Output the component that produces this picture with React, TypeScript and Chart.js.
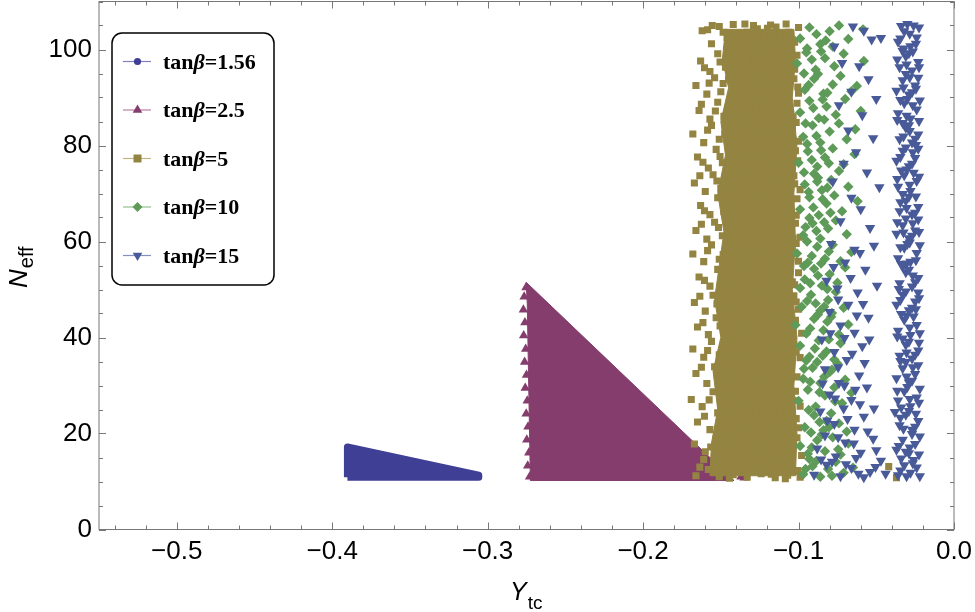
import React, { useEffect, useRef } from "react";
import { Chart, registerables } from "chart.js";

Chart.register(...registerables);

// axis ticks
const xTicks = [-0.5, -0.4, -0.3, -0.2, -0.1, 0];
const yTicks = [0, 20, 40, 60, 80, 100];

const seriesLabels = ["1.56", "2.5", "5", "10", "15"];

// tanβ=1.56 : densely filled wedge, outline of marker centres
const blueRegion = [
  [-0.3902, 10.9], [-0.3902, 17.2], [-0.3057, 11.3], [-0.3057, 10.9], [-0.3902, 10.9],
];

// tanβ=2.5 : densely filled triangle + ragged left edge
const purpleRegion = [
  [-0.2752, 51.5], [-0.1415, 10.2], [-0.2725, 10.2], [-0.2745, 47.0], [-0.2752, 51.5],
];
const purpleEdge = [
  [-0.2753, 50.4], [-0.2765, 48.5], [-0.277, 45.8], [-0.276, 43.1], [-0.2768, 40.4], [-0.2755, 37.6],
  [-0.2762, 34.9], [-0.275, 32.2], [-0.2758, 29.5], [-0.2745, 26.8], [-0.2752, 24.1],
  [-0.274, 21.4], [-0.2748, 18.7], [-0.2735, 16.0], [-0.2742, 13.3], [-0.273, 11.0],
  [-0.137, 11.0], [-0.135, 10.8],
];

// tanβ=5 : dense core of the cloud
const goldCore = [
  [-0.147, 104.2], [-0.149, 98], [-0.145, 92], [-0.15, 85], [-0.147, 78], [-0.152, 70], [-0.148, 62],
  [-0.151, 55], [-0.154, 48], [-0.15, 40], [-0.155, 33], [-0.152, 25], [-0.156, 18], [-0.157, 11.2],
  [-0.102, 11.2], [-0.101, 20], [-0.103, 30], [-0.101, 40], [-0.104, 50], [-0.102, 60], [-0.103, 70],
  [-0.101, 80], [-0.104, 90], [-0.102, 98], [-0.103, 104.2], [-0.147, 104.2],
];

// tanβ=5 : individual points
const goldPoints = [
  [-0.166, 11.2], [-0.158, 12.5], [-0.151, 11.0], [-0.147, 13.8], [-0.142, 11.4], [-0.137, 12.9], [-0.133, 10.9], [-0.128, 14.2], [-0.124, 11.6], [-0.119, 12.4], [-0.115, 10.8], [-0.111, 13.5], [-0.107, 11.3], [-0.103, 12.1], [-0.099, 10.9], [-0.161, 14.6], [-0.154, 13.1], [-0.121, 14.8],
  [-0.167, 17.8], [-0.16, 16.2], [-0.153, 18.9], [-0.149, 15.7], [-0.144, 17.3], [-0.139, 19.4], [-0.135, 16.1], [-0.13, 18.2], [-0.126, 15.5], [-0.122, 19.6], [-0.117, 17.0], [-0.113, 15.9], [-0.109, 18.7], [-0.105, 16.4], [-0.101, 19.1], [-0.098, 15.4], [-0.146, 19.9],
  [-0.165, 22.4], [-0.157, 20.8], [-0.152, 24.3], [-0.148, 21.5], [-0.143, 23.6], [-0.138, 20.6], [-0.134, 24.8], [-0.129, 22.0], [-0.125, 20.3], [-0.12, 23.4], [-0.116, 21.7], [-0.112, 24.6], [-0.108, 20.9], [-0.104, 22.9], [-0.1, 21.2], [-0.131, 24.0],
  [-0.169, 27.1], [-0.162, 25.6], [-0.155, 28.7], [-0.15, 26.2], [-0.145, 29.5], [-0.141, 25.3], [-0.136, 27.8], [-0.132, 29.9], [-0.127, 26.5], [-0.123, 28.4], [-0.118, 25.4], [-0.114, 27.6], [-0.11, 29.2], [-0.106, 26.0], [-0.102, 28.8], [-0.099, 25.7], [-0.14, 28.6],
  [-0.166, 32.5], [-0.159, 30.4], [-0.154, 33.9], [-0.147, 31.2], [-0.143, 34.6], [-0.139, 30.7], [-0.135, 32.9], [-0.13, 34.1], [-0.126, 30.2], [-0.121, 33.0], [-0.117, 31.6], [-0.113, 34.8], [-0.109, 30.9], [-0.105, 33.4], [-0.101, 31.8], [-0.128, 32.1],
  [-0.168, 37.6], [-0.161, 35.9], [-0.156, 39.2], [-0.151, 36.4], [-0.146, 38.8], [-0.142, 35.2], [-0.137, 37.4], [-0.133, 39.6], [-0.128, 36.1], [-0.124, 38.3], [-0.119, 35.5], [-0.115, 37.9], [-0.111, 39.8], [-0.107, 36.7], [-0.103, 38.5], [-0.099, 35.8], [-0.121, 39.1],
  [-0.165, 42.2], [-0.158, 40.6], [-0.153, 44.1], [-0.148, 41.3], [-0.144, 43.7], [-0.14, 40.2], [-0.136, 42.5], [-0.131, 44.6], [-0.127, 41.0], [-0.122, 43.2], [-0.118, 40.5], [-0.114, 42.9], [-0.11, 44.4], [-0.106, 41.4], [-0.102, 43.6], [-0.098, 40.9], [-0.134, 40.8],
  [-0.167, 47.3], [-0.16, 45.5], [-0.155, 48.8], [-0.15, 46.0], [-0.145, 49.4], [-0.141, 45.2], [-0.137, 47.7], [-0.132, 49.9], [-0.128, 46.3], [-0.124, 48.4], [-0.119, 45.6], [-0.115, 47.9], [-0.111, 49.2], [-0.107, 46.6], [-0.103, 48.7], [-0.1, 45.9], [-0.126, 47.0],
  [-0.164, 52.6], [-0.157, 50.7], [-0.152, 54.2], [-0.147, 51.4], [-0.143, 53.8], [-0.138, 50.3], [-0.134, 52.9], [-0.129, 54.5], [-0.125, 51.1], [-0.12, 53.3], [-0.116, 50.5], [-0.112, 52.8], [-0.108, 54.7], [-0.104, 51.6], [-0.1, 53.5], [-0.131, 51.9],
  [-0.168, 57.4], [-0.161, 55.8], [-0.156, 59.3], [-0.151, 56.3], [-0.146, 58.6], [-0.142, 55.4], [-0.138, 57.9], [-0.133, 59.7], [-0.129, 56.0], [-0.124, 58.2], [-0.12, 55.6], [-0.116, 57.5], [-0.112, 59.5], [-0.108, 56.7], [-0.104, 58.9], [-0.1, 55.9], [-0.122, 59.9],
  [-0.166, 62.3], [-0.159, 60.5], [-0.154, 64.0], [-0.149, 61.2], [-0.145, 63.6], [-0.14, 60.3], [-0.136, 62.8], [-0.131, 64.5], [-0.127, 61.0], [-0.123, 63.1], [-0.118, 60.7], [-0.114, 62.5], [-0.11, 64.3], [-0.106, 61.6], [-0.102, 63.8], [-0.099, 60.9], [-0.143, 61.8],
  [-0.163, 67.5], [-0.157, 65.6], [-0.152, 69.1], [-0.148, 66.2], [-0.143, 68.5], [-0.139, 65.3], [-0.135, 67.8], [-0.13, 69.6], [-0.126, 66.0], [-0.121, 68.2], [-0.117, 65.7], [-0.113, 67.4], [-0.109, 69.4], [-0.105, 66.5], [-0.101, 68.9], [-0.128, 67.3],
  [-0.167, 72.2], [-0.16, 70.4], [-0.155, 73.9], [-0.15, 71.1], [-0.146, 74.5], [-0.141, 70.2], [-0.137, 72.7], [-0.132, 74.8], [-0.128, 71.3], [-0.123, 73.4], [-0.119, 70.6], [-0.115, 72.9], [-0.111, 74.4], [-0.107, 71.5], [-0.103, 73.7], [-0.099, 70.8], [-0.134, 71.0],
  [-0.165, 77.6], [-0.158, 75.3], [-0.153, 79.2], [-0.149, 76.4], [-0.144, 78.7], [-0.14, 75.5], [-0.136, 77.9], [-0.131, 79.6], [-0.127, 76.2], [-0.122, 78.4], [-0.118, 75.8], [-0.114, 77.5], [-0.11, 79.4], [-0.106, 76.6], [-0.102, 78.9], [-0.125, 79.8],
  [-0.168, 82.4], [-0.161, 80.6], [-0.156, 84.2], [-0.151, 81.3], [-0.147, 83.7], [-0.142, 80.4], [-0.138, 82.8], [-0.133, 84.6], [-0.129, 81.2], [-0.124, 83.3], [-0.12, 80.8], [-0.116, 82.6], [-0.112, 84.5], [-0.108, 81.7], [-0.104, 83.9], [-0.1, 80.9], [-0.135, 81.0],
  [-0.164, 87.3], [-0.157, 85.5], [-0.152, 89.0], [-0.148, 86.1], [-0.143, 88.6], [-0.139, 85.4], [-0.135, 87.7], [-0.13, 89.5], [-0.126, 86.3], [-0.121, 88.1], [-0.117, 85.6], [-0.113, 87.4], [-0.109, 89.3], [-0.105, 86.6], [-0.101, 88.8], [-0.123, 85.9],
  [-0.166, 92.5], [-0.159, 90.7], [-0.154, 94.1], [-0.15, 91.2], [-0.145, 93.8], [-0.141, 90.4], [-0.137, 92.8], [-0.132, 94.6], [-0.128, 91.1], [-0.124, 93.3], [-0.119, 90.6], [-0.115, 92.5], [-0.111, 94.4], [-0.107, 91.6], [-0.103, 93.9], [-0.1, 90.9], [-0.134, 93.0],
  [-0.163, 97.6], [-0.157, 95.4], [-0.152, 99.1], [-0.147, 96.3], [-0.143, 98.7], [-0.139, 95.5], [-0.134, 97.8], [-0.13, 99.6], [-0.126, 96.2], [-0.121, 98.3], [-0.117, 95.7], [-0.113, 97.5], [-0.109, 99.4], [-0.105, 96.6], [-0.101, 98.8], [-0.128, 98.0],
  [-0.162, 103.9], [-0.156, 101.2], [-0.151, 104.8], [-0.146, 102.5], [-0.142, 105.2], [-0.138, 100.6], [-0.133, 103.6], [-0.129, 105.0], [-0.125, 101.8], [-0.12, 104.4], [-0.116, 100.9], [-0.112, 103.1], [-0.108, 105.3], [-0.104, 102.0], [-0.1, 104.6], [-0.135, 101.4], [-0.118, 105.1],
  [-0.042, 13.1], [-0.037, 10.8],
  [-0.1635, 13.0], [-0.1495, 12.2], [-0.1395, 14.1], [-0.1345, 11.9], [-0.1265, 12.7], [-0.1175, 11.5], [-0.1125, 14.6], [-0.1045, 13.9], [-0.1005, 12.3], [-0.1445, 10.7], [-0.1085, 10.6],
  [-0.1565, 17.2], [-0.1505, 19.0], [-0.1415, 16.0], [-0.1325, 17.6], [-0.1235, 16.9], [-0.1195, 18.3], [-0.1105, 17.0], [-0.1035, 18.1], [-0.1155, 19.8], [-0.1375, 18.9], [-0.1275, 19.5],
  [-0.1605, 23.6], [-0.1455, 22.8], [-0.1405, 21.9], [-0.1315, 23.3], [-0.1225, 21.6], [-0.1185, 24.2], [-0.1135, 22.9], [-0.1065, 24.0], [-0.1015, 23.1], [-0.1275, 24.6], [-0.1355, 20.7],
  [-0.1575, 27.0], [-0.1475, 27.9], [-0.1385, 26.6], [-0.1305, 25.8], [-0.1255, 28.9], [-0.1205, 27.1], [-0.1125, 26.0], [-0.1075, 28.1], [-0.1035, 26.9], [-0.1165, 29.6], [-0.1345, 29.1],
  [-0.1625, 33.8], [-0.1505, 32.7], [-0.1455, 30.6], [-0.1375, 32.2], [-0.1325, 31.4], [-0.1235, 34.4], [-0.1185, 32.6], [-0.1105, 33.9], [-0.1065, 31.7], [-0.1415, 34.9], [-0.1155, 30.3],
  [-0.1585, 37.3], [-0.1485, 38.1], [-0.1395, 36.9], [-0.1305, 38.8], [-0.1265, 35.9], [-0.1215, 37.2], [-0.1135, 36.2], [-0.1085, 38.7], [-0.1015, 37.0], [-0.1175, 39.6], [-0.1345, 35.6],
  [-0.1615, 43.1], [-0.1505, 42.4], [-0.1425, 41.8], [-0.1345, 43.4], [-0.1245, 42.0], [-0.1195, 44.7], [-0.1155, 41.7], [-0.1085, 42.8], [-0.1045, 40.4], [-0.1285, 44.9], [-0.1395, 44.5],
  [-0.1635, 48.6], [-0.1525, 47.0], [-0.1435, 47.9], [-0.1355, 46.5], [-0.1305, 48.2], [-0.1215, 47.0], [-0.1165, 49.6], [-0.1095, 47.8], [-0.1015, 47.4], [-0.1255, 45.4], [-0.1395, 49.8],
  [-0.1605, 51.9], [-0.1495, 53.0], [-0.1415, 52.1], [-0.1365, 54.9], [-0.1275, 53.7], [-0.1225, 51.6], [-0.1145, 52.3], [-0.1065, 53.4], [-0.1025, 51.0], [-0.1185, 54.8], [-0.1315, 50.2],
  [-0.1585, 58.1], [-0.1485, 57.3], [-0.1405, 56.8], [-0.1355, 58.7], [-0.1265, 57.4], [-0.1185, 56.6], [-0.1135, 58.9], [-0.1055, 57.6], [-0.1015, 59.6], [-0.1225, 55.2], [-0.1435, 59.9],
  [-0.1625, 63.6], [-0.1515, 62.9], [-0.1425, 61.9], [-0.1335, 63.9], [-0.1295, 62.2], [-0.1205, 61.6], [-0.1155, 64.1], [-0.1085, 62.8], [-0.1035, 60.6], [-0.1255, 64.8], [-0.1375, 60.4],
  [-0.1605, 66.4], [-0.1455, 67.2], [-0.1375, 66.6], [-0.1325, 68.9], [-0.1235, 67.0], [-0.1195, 69.5], [-0.1145, 66.2], [-0.1065, 67.9], [-0.1015, 65.5], [-0.1285, 65.1], [-0.1415, 69.8],
  [-0.1635, 73.7], [-0.1525, 72.6], [-0.1435, 73.0], [-0.1355, 71.6], [-0.1255, 72.4], [-0.1215, 74.6], [-0.1135, 71.1], [-0.1085, 73.2], [-0.1025, 72.0], [-0.1305, 73.9], [-0.1175, 70.3],
  [-0.1615, 76.5], [-0.1505, 77.7], [-0.1425, 77.0], [-0.1345, 75.9], [-0.1285, 77.2], [-0.1205, 76.9], [-0.1165, 79.3], [-0.1075, 78.0], [-0.1005, 76.8], [-0.1385, 79.5], [-0.1235, 75.2],
  [-0.1585, 83.2], [-0.1475, 82.4], [-0.1405, 81.7], [-0.1355, 83.9], [-0.1265, 82.1], [-0.1185, 84.3], [-0.1135, 81.0], [-0.1055, 82.7], [-0.1015, 84.8], [-0.1305, 84.9], [-0.1225, 80.3],
  [-0.1625, 88.6], [-0.1535, 87.2], [-0.1455, 87.6], [-0.1365, 86.3], [-0.1275, 87.9], [-0.1235, 86.4], [-0.1155, 89.6], [-0.1085, 87.6], [-0.1035, 86.0], [-0.1405, 89.4], [-0.1195, 85.2],
  [-0.1575, 93.0], [-0.1485, 92.9], [-0.1395, 91.8], [-0.1345, 94.8], [-0.1255, 92.3], [-0.1215, 94.5], [-0.1125, 91.0], [-0.1065, 93.0], [-0.1005, 92.2], [-0.1435, 90.3], [-0.1175, 93.7],
  [-0.1605, 96.2], [-0.1505, 97.4], [-0.1415, 96.9], [-0.1365, 99.2], [-0.1285, 97.0], [-0.1235, 96.9], [-0.1155, 98.6], [-0.1075, 97.9], [-0.1025, 95.9], [-0.1195, 99.8], [-0.1325, 95.3],
  [-0.1585, 104.1], [-0.1485, 103.6], [-0.1395, 102.4], [-0.1315, 101.1], [-0.1265, 104.3], [-0.1225, 102.9], [-0.1145, 104.7], [-0.1065, 103.6], [-0.1025, 101.5], [-0.1345, 105.3], [-0.1445, 100.5], [-0.1555, 105.0],
];

// tanβ=10
const greenPoints = [
  [-0.097, 11.5], [-0.091, 13.2], [-0.086, 11.0], [-0.081, 12.6], [-0.076, 14.1], [-0.071, 11.8], [-0.093, 14.7], [-0.065, 12.9],
  [-0.099, 17.4], [-0.094, 15.8], [-0.088, 18.6], [-0.083, 16.3], [-0.078, 19.2], [-0.073, 15.6], [-0.068, 17.9], [-0.085, 19.8],
  [-0.096, 21.3], [-0.09, 23.8], [-0.084, 20.7], [-0.079, 24.2], [-0.074, 22.1], [-0.069, 20.4], [-0.092, 20.2], [-0.082, 22.6],
  [-0.1, 26.8], [-0.094, 29.1], [-0.089, 25.6], [-0.083, 27.9], [-0.077, 29.6], [-0.072, 26.3], [-0.066, 28.5],
  [-0.097, 31.4], [-0.091, 33.7], [-0.086, 30.5], [-0.08, 32.8], [-0.075, 34.6], [-0.07, 31.2], [-0.088, 34.9],
  [-0.099, 38.3], [-0.093, 36.0], [-0.087, 39.4], [-0.082, 37.1], [-0.077, 35.4], [-0.073, 38.8], [-0.095, 35.2],
  [-0.102, 42.6], [-0.095, 40.8], [-0.09, 43.9], [-0.084, 41.5], [-0.079, 44.3], [-0.074, 40.6], [-0.068, 42.7],
  [-0.098, 46.4], [-0.092, 48.9], [-0.086, 45.6], [-0.081, 47.8], [-0.076, 49.5], [-0.071, 46.2], [-0.089, 47.1],
  [-0.096, 52.1], [-0.09, 54.3], [-0.085, 50.8], [-0.08, 53.2], [-0.075, 51.4], [-0.07, 54.6], [-0.099, 50.3],
  [-0.101, 57.5], [-0.094, 55.6], [-0.088, 58.9], [-0.083, 56.4], [-0.078, 59.3], [-0.073, 55.9], [-0.066, 57.8],
  [-0.097, 61.3], [-0.091, 63.8], [-0.086, 60.6], [-0.081, 62.7], [-0.076, 64.4], [-0.069, 61.5], [-0.093, 64.9],
  [-0.099, 66.7], [-0.093, 69.2], [-0.087, 65.5], [-0.082, 67.9], [-0.077, 69.6], [-0.072, 66.3], [-0.062, 68.4],
  [-0.096, 71.9], [-0.09, 74.1], [-0.085, 70.7], [-0.079, 72.8], [-0.074, 74.7], [-0.068, 71.4], [-0.088, 72.5],
  [-0.1, 76.4], [-0.094, 78.8], [-0.088, 75.6], [-0.083, 77.5], [-0.078, 79.4], [-0.071, 76.1], [-0.064, 78.2],
  [-0.097, 81.8], [-0.091, 84.2], [-0.086, 80.6], [-0.08, 82.9], [-0.074, 84.6], [-0.069, 81.3],
  [-0.099, 86.9], [-0.093, 89.3], [-0.087, 85.7], [-0.082, 88.1], [-0.076, 86.4], [-0.07, 89.7], [-0.06, 87.2],
  [-0.096, 91.6], [-0.09, 93.9], [-0.084, 90.8], [-0.078, 92.7], [-0.073, 94.5], [-0.066, 91.3],
  [-0.101, 97.1], [-0.095, 99.4], [-0.089, 95.8], [-0.083, 98.2], [-0.077, 96.5], [-0.071, 99.1], [-0.058, 97.6],
  [-0.099, 102.3], [-0.093, 104.6], [-0.086, 101.1], [-0.08, 103.8], [-0.074, 105.0], [-0.068, 102.2], [-0.078, 100.6],
  [-0.0955, 12.6], [-0.0885, 14.3], [-0.0785, 11.2], [-0.0745, 16.7], [-0.0915, 17.1], [-0.0805, 21.3], [-0.0935, 24.9], [-0.0865, 22.4],
  [-0.0765, 26.7], [-0.0865, 28.6], [-0.0925, 30.8], [-0.0835, 31.8], [-0.0785, 33.3], [-0.0965, 33.5], [-0.0895, 37.7], [-0.0805, 39.6],
  [-0.0845, 36.2], [-0.0925, 41.9], [-0.0815, 43.3], [-0.0875, 44.8], [-0.0945, 47.6], [-0.0835, 46.4], [-0.0785, 45.1], [-0.0925, 51.3],
  [-0.0875, 52.9], [-0.0815, 50.1], [-0.0965, 54.9], [-0.0915, 57.0], [-0.0855, 55.4], [-0.0805, 57.9], [-0.0945, 60.0], [-0.0885, 62.2],
  [-0.0835, 64.0], [-0.0955, 63.0], [-0.0905, 67.1], [-0.0845, 68.8], [-0.0795, 66.0], [-0.0935, 70.3], [-0.0875, 73.3], [-0.0815, 71.2],
  [-0.0965, 74.4], [-0.0915, 77.0], [-0.0855, 79.0], [-0.0805, 76.3], [-0.0945, 80.3], [-0.0885, 82.0], [-0.0835, 85.4], [-0.0955, 84.6],
  [-0.0905, 87.8], [-0.0845, 89.6], [-0.0935, 92.6], [-0.0875, 94.9], [-0.0815, 91.0], [-0.0965, 95.0], [-0.0915, 97.9], [-0.0855, 99.6],
  [-0.0945, 100.2], [-0.0885, 103.2], [-0.0825, 101.9], [-0.0625, 92.4], [-0.0635, 83.4], [-0.0585, 104.2],
];

// tanβ=15
const bluePoints = [
  [-0.036, 11.3], [-0.032, 13.4], [-0.028, 11.8], [-0.024, 12.9], [-0.034, 14.8], [-0.026, 14.5], [-0.022, 11.1],
  [-0.037, 16.6], [-0.033, 18.7], [-0.029, 15.9], [-0.025, 17.8], [-0.022, 19.4], [-0.031, 16.2], [-0.027, 19.9],
  [-0.035, 21.7], [-0.031, 23.9], [-0.027, 20.8], [-0.023, 22.6], [-0.038, 24.5], [-0.029, 24.7], [-0.025, 21.4],
  [-0.036, 26.9], [-0.032, 28.8], [-0.028, 25.7], [-0.024, 27.5], [-0.03, 29.7], [-0.022, 29.3], [-0.034, 25.4],
  [-0.037, 31.5], [-0.033, 33.6], [-0.029, 30.6], [-0.025, 32.4], [-0.031, 34.9], [-0.023, 34.2], [-0.027, 31.0],
  [-0.035, 36.2], [-0.031, 38.5], [-0.027, 35.6], [-0.023, 37.3], [-0.033, 39.8], [-0.029, 39.1], [-0.025, 36.4],
  [-0.036, 41.4], [-0.032, 43.7], [-0.028, 40.5], [-0.024, 42.6], [-0.034, 44.9], [-0.026, 44.4], [-0.022, 40.9],
  [-0.037, 46.8], [-0.033, 48.9], [-0.029, 45.7], [-0.025, 47.5], [-0.031, 49.6], [-0.023, 49.4], [-0.027, 46.2],
  [-0.035, 51.3], [-0.031, 53.6], [-0.027, 50.6], [-0.023, 52.4], [-0.033, 54.8], [-0.029, 54.1], [-0.025, 51.5],
  [-0.036, 56.5], [-0.032, 58.7], [-0.028, 55.8], [-0.024, 57.6], [-0.03, 59.5], [-0.022, 59.2], [-0.034, 55.3],
  [-0.037, 61.6], [-0.033, 63.4], [-0.029, 60.7], [-0.025, 62.3], [-0.031, 64.8], [-0.023, 64.6], [-0.027, 61.2],
  [-0.035, 66.3], [-0.031, 68.5], [-0.027, 65.6], [-0.023, 67.2], [-0.033, 69.9], [-0.029, 69.3], [-0.025, 66.0],
  [-0.036, 71.4], [-0.032, 73.8], [-0.028, 70.5], [-0.024, 72.6], [-0.034, 74.8], [-0.026, 74.3],
  [-0.037, 76.8], [-0.033, 78.9], [-0.029, 75.7], [-0.025, 77.4], [-0.031, 79.6], [-0.023, 79.3], [-0.027, 76.2],
  [-0.035, 81.3], [-0.031, 83.7], [-0.027, 80.6], [-0.023, 82.3], [-0.033, 84.7], [-0.029, 84.2], [-0.025, 81.4],
  [-0.036, 86.7], [-0.032, 88.8], [-0.028, 85.6], [-0.024, 87.5], [-0.03, 89.7], [-0.022, 89.4],
  [-0.037, 91.4], [-0.033, 93.6], [-0.029, 90.6], [-0.025, 92.5], [-0.031, 94.9], [-0.023, 94.1], [-0.027, 91.1],
  [-0.035, 96.3], [-0.031, 98.6], [-0.027, 95.6], [-0.023, 97.4], [-0.033, 99.7], [-0.029, 99.2],
  [-0.036, 101.6], [-0.032, 103.8], [-0.028, 100.7], [-0.024, 102.5], [-0.03, 105.3], [-0.026, 105.0], [-0.034, 104.9],
  [-0.0345, 12.3], [-0.0305, 11.1], [-0.0265, 13.8], [-0.0225, 15.6], [-0.0355, 17.4], [-0.0285, 17.1], [-0.0325, 21.0], [-0.0245, 24.1],
  [-0.0345, 23.3], [-0.0285, 27.2], [-0.0365, 28.9], [-0.0225, 26.4], [-0.0305, 31.9], [-0.0345, 35.1], [-0.0265, 33.8], [-0.0225, 38.9],
  [-0.0305, 36.9], [-0.0365, 40.2], [-0.0285, 42.1], [-0.0245, 45.9], [-0.0345, 47.8], [-0.0305, 44.6], [-0.0225, 48.2], [-0.0265, 52.9],
  [-0.0355, 50.1], [-0.0305, 55.4], [-0.0245, 56.1], [-0.0345, 58.8], [-0.0285, 59.8], [-0.0225, 62.0], [-0.0325, 61.9], [-0.0365, 64.0],
  [-0.0265, 63.8], [-0.0305, 67.0], [-0.0245, 69.4], [-0.0345, 68.2], [-0.0285, 71.8], [-0.0225, 73.5], [-0.0365, 73.0], [-0.0305, 75.0],
  [-0.0265, 78.6], [-0.0345, 77.6], [-0.0245, 80.1], [-0.0325, 81.9], [-0.0285, 83.0], [-0.0225, 85.1], [-0.0365, 85.3], [-0.0305, 86.2],
  [-0.0265, 88.4], [-0.0345, 89.5], [-0.0245, 91.8], [-0.0325, 92.1], [-0.0285, 94.2], [-0.0225, 96.3], [-0.0365, 97.9], [-0.0305, 96.9],
  [-0.0265, 99.6], [-0.0245, 101.2], [-0.0345, 102.3], [-0.0285, 103.3], [-0.0225, 104.6], [-0.0325, 100.2],
  [-0.065, 104.8], [-0.058, 103.9], [-0.053, 102.1], [-0.047, 102.4], [-0.077, 100.6], [-0.072, 97.2], [-0.061, 96.5],
  [-0.055, 93.8], [-0.066, 91.2], [-0.05, 89.7], [-0.074, 88.4], [-0.059, 86.3], [-0.068, 83.1], [-0.052, 81.5],
  [-0.063, 78.6], [-0.071, 76.2], [-0.056, 74.4], [-0.078, 72.5], [-0.048, 71.3], [-0.066, 69.1], [-0.06, 66.7],
  [-0.073, 64.2], [-0.054, 62.8], [-0.079, 59.5], [-0.064, 58.3], [-0.07, 55.6], [-0.057, 54.1], [-0.082, 51.8],
  [-0.075, 50.2], [-0.062, 49.4], [-0.068, 46.8], [-0.08, 45.3], [-0.055, 44.1], [-0.073, 42.5], [-0.064, 41.0],
  [-0.085, 39.6], [-0.059, 38.2], [-0.077, 37.0], [-0.069, 35.3], [-0.083, 33.4], [-0.061, 32.1], [-0.074, 30.5],
  [-0.056, 29.6], [-0.08, 28.1], [-0.066, 27.0], [-0.071, 25.2], [-0.086, 24.6], [-0.058, 23.5], [-0.077, 22.0],
  [-0.064, 20.8], [-0.083, 19.6], [-0.052, 18.9], [-0.07, 18.1], [-0.088, 16.9], [-0.06, 16.0], [-0.076, 15.2],
  [-0.047, 14.3], [-0.082, 13.5], [-0.066, 12.8], [-0.054, 12.0], [-0.09, 11.4], [-0.073, 11.1], [-0.058, 10.9],
  [-0.044, 11.6], [-0.05, 16.5], [-0.063, 14.9],
  [-0.0785, 14.1], [-0.0695, 13.6], [-0.0615, 11.6], [-0.0505, 13.0], [-0.0855, 14.6], [-0.0645, 17.9], [-0.0555, 20.4], [-0.0745, 19.2],
  [-0.0815, 22.7], [-0.0685, 23.0], [-0.0605, 26.1], [-0.0515, 25.2], [-0.0765, 27.3], [-0.0705, 30.0], [-0.0635, 29.1], [-0.0845, 30.4],
  [-0.0575, 34.7], [-0.0745, 33.8], [-0.0655, 36.6], [-0.0545, 39.6], [-0.0795, 40.9], [-0.0705, 39.9], [-0.0625, 44.6], [-0.0745, 47.9],
  [-0.0585, 47.0], [-0.0665, 52.4], [-0.0775, 54.7], [-0.0605, 57.6], [-0.0495, 50.8], [-0.0515, 59.1],
];

const colors = ["#3f3f95", "#853d6d", "#948441", "#5e9a58", "#485a98"];
const lineColors = ["#8080c0", "#b97fa3", "#c2b47e", "#93c08e", "#8491c0"];

const toXY = (arr: number[][]) => arr.map(([x, y]) => ({ x, y }));

const sansFont = '"Liberation Sans", Arial, sans-serif';
const serifFont = '"Liberation Serif", "Times New Roman", serif';

function drawMarker(ctx: CanvasRenderingContext2D, kind: number, x: number, y: number) {
  ctx.beginPath();
  if (kind === 0) {
    ctx.arc(x, y, 3.6, 0, Math.PI * 2);
  } else if (kind === 1) {
    ctx.moveTo(x, y - 5.5);
    ctx.lineTo(x + 4.8, y + 2.8);
    ctx.lineTo(x - 4.8, y + 2.8);
  } else if (kind === 2) {
    ctx.rect(x - 4, y - 4, 8, 8);
  } else if (kind === 3) {
    ctx.moveTo(x, y - 5);
    ctx.lineTo(x + 5, y);
    ctx.lineTo(x, y + 5);
    ctx.lineTo(x - 5, y);
  } else {
    ctx.moveTo(x, y + 5.5);
    ctx.lineTo(x + 4.8, y - 2.8);
    ctx.lineTo(x - 4.8, y - 2.8);
  }
  ctx.closePath();
  ctx.fill();
}

const framePlugin = {
  id: "frame",
  afterDatasetsDraw(chart: any) {
    const { ctx, chartArea: a, scales } = chart;
    const xs = scales.x;
    const ys = scales.y;
    ctx.save();
    ctx.strokeStyle = "#777";
    ctx.lineWidth = 1;
    ctx.strokeRect(a.left, a.top, a.right - a.left, a.bottom - a.top);
    ctx.beginPath();
    for (let i = -27; i <= 0; i++) {
      const v = i * 0.02;
      const px = Math.round(xs.getPixelForValue(v)) + 0.5;
      const len = i % 5 === 0 ? 7 : 4;
      ctx.moveTo(px, a.bottom);
      ctx.lineTo(px, a.bottom - len);
      ctx.moveTo(px, a.top);
      ctx.lineTo(px, a.top + len);
    }
    for (let v = 0; v <= 110; v += 5) {
      const py = Math.round(ys.getPixelForValue(v)) + 0.5;
      const len = v % 20 === 0 ? 7 : 4;
      ctx.moveTo(a.left, py);
      ctx.lineTo(a.left + len, py);
      ctx.moveTo(a.right, py);
      ctx.lineTo(a.right - len, py);
    }
    ctx.stroke();
    ctx.restore();
  },
};

const titlePlugin = {
  id: "titles",
  afterDraw(chart: any) {
    const { ctx } = chart;
    ctx.save();
    ctx.fillStyle = "#000";
    ctx.textBaseline = "alphabetic";
    ctx.textAlign = "left";
    // x title: Y_tc
    ctx.font = `italic 25px ${sansFont}`;
    ctx.fillText("Y", 510, 600);
    const wY = ctx.measureText("Y").width;
    ctx.font = `19px ${sansFont}`;
    ctx.fillText("tc", 510 + wY + 1, 609);
    // y title: N_eff
    ctx.translate(27, 288);
    ctx.rotate(-Math.PI / 2);
    ctx.font = `italic 26px ${sansFont}`;
    ctx.fillText("N", 0, 0);
    const wN = ctx.measureText("N").width;
    ctx.font = `20px ${sansFont}`;
    ctx.fillText("eff", wN + 1, 6);
    ctx.restore();
  },
};

const legendPlugin = {
  id: "boxLegend",
  afterDraw(chart: any) {
    const { ctx } = chart;
    const left = 112, top = 33, right = 274, bottom = 285;
    ctx.save();
    ctx.beginPath();
    ctx.roundRect(left, top, right - left, bottom - top, 10);
    ctx.fillStyle = "#fff";
    ctx.fill();
    ctx.lineWidth = 1.5;
    ctx.strokeStyle = "#000";
    ctx.stroke();
    const rowY = [61, 109.5, 158, 206.5, 255];
    seriesLabels.forEach((lab, i) => {
      const y = rowY[i];
      ctx.strokeStyle = lineColors[i];
      ctx.lineWidth = 1.2;
      ctx.beginPath();
      ctx.moveTo(123, y + 0.5);
      ctx.lineTo(151, y + 0.5);
      ctx.stroke();
      ctx.fillStyle = colors[i];
      drawMarker(ctx, i, 137.5, y + 0.5);
      ctx.fillStyle = "#000";
      ctx.textBaseline = "alphabetic";
      let x = 163;
      const base = y + 7.5;
      ctx.font = `bold 22px ${serifFont}`;
      ctx.fillText("tan", x, base);
      x += ctx.measureText("tan").width;
      ctx.font = `italic bold 22px ${serifFont}`;
      ctx.fillText("β", x, base);
      x += ctx.measureText("β").width;
      ctx.font = `bold 22px ${serifFont}`;
      ctx.fillText("=" + lab, x, base);
    });
    ctx.restore();
  },
};

const fmtX = (v: number) => (v === 0 ? "0.0" : "\u2212" + Math.abs(v).toFixed(1));

export default function App() {
  const canvasRef = useRef<HTMLCanvasElement>(null);
  const chartRef = useRef<Chart | null>(null);

  useEffect(() => {
    if (!canvasRef.current) return;
    const tickFont = { family: sansFont, size: 26 };
    chartRef.current = new Chart(canvasRef.current, {
      type: "scatter",
      data: {
        datasets: [
          {
            type: "line",
            label: "tanβ=1.56",
            data: toXY(blueRegion),
            borderColor: colors[0],
            backgroundColor: colors[0],
            borderWidth: 7,
            borderJoinStyle: "round",
            fill: "shape",
            pointRadius: 0,
            tension: 0,
            order: 10,
          },
          {
            type: "line",
            label: "tanβ=2.5 region",
            data: toXY(purpleRegion),
            borderColor: colors[1],
            backgroundColor: colors[1],
            borderWidth: 1,
            fill: "shape",
            pointRadius: 0,
            tension: 0,
            order: 9,
          },
          {
            label: "tanβ=2.5",
            data: toXY(purpleEdge),
            pointStyle: "triangle",
            pointRadius: 5.5,
            pointBorderWidth: 0,
            backgroundColor: colors[1],
            order: 8,
          },
          {
            type: "line",
            label: "tanβ=5 core",
            data: toXY(goldCore),
            borderColor: colors[2],
            backgroundColor: colors[2],
            borderWidth: 1,
            fill: "shape",
            pointRadius: 0,
            tension: 0,
            order: 4,
          },
          {
            label: "tanβ=5",
            data: toXY(goldPoints),
            pointStyle: "rect",
            pointRadius: 5,
            pointBorderWidth: 0,
            backgroundColor: colors[2],
            order: 3,
          },
          {
            label: "tanβ=10",
            data: toXY(greenPoints),
            pointStyle: "rectRot",
            pointRadius: 5.2,
            pointBorderWidth: 0,
            backgroundColor: colors[3],
            order: 2,
          },
          {
            label: "tanβ=15",
            data: toXY(bluePoints),
            pointStyle: "triangle",
            pointRotation: 180,
            pointRadius: 6,
            pointBorderWidth: 0,
            backgroundColor: colors[4],
            order: 1,
          },
        ],
      },
      options: {
        animation: false,
        responsive: true,
        maintainAspectRatio: false,
        events: [],
        layout: { autoPadding: false, padding: { left: 0, right: 21, top: 1.5, bottom: 0 } },
        plugins: { legend: { display: false }, tooltip: { enabled: false } },
        scales: {
          x: {
            type: "linear",
            min: -0.55,
            max: 0,
            afterBuildTicks: (s: any) => {
              s.ticks = xTicks.map((v) => ({ value: v }));
            },
            afterFit: (s: any) => {
              s.height = 82.5;
              s.paddingLeft = 0;
              s.paddingRight = 0;
            },
            ticks: {
              callback: (v: any) => fmtX(Number(v)),
              font: tickFont,
              color: "#000",
              padding: 7,
              maxRotation: 0,
              autoSkip: false,
            },
            grid: { display: false, drawTicks: false },
            border: { display: false },
          },
          y: {
            type: "linear",
            min: 0,
            max: 110,
            afterBuildTicks: (s: any) => {
              s.ticks = yTicks.map((v) => ({ value: v }));
            },
            afterFit: (s: any) => {
              s.width = 99;
              s.paddingTop = 0;
              s.paddingBottom = 0;
            },
            ticks: {
              callback: (v: any) => String(v),
              font: tickFont,
              color: "#000",
              padding: 7,
              autoSkip: false,
            },
            grid: { display: false, drawTicks: false },
            border: { display: false },
          },
        },
      },
      plugins: [framePlugin, titlePlugin, legendPlugin],
    } as any);
    return () => {
      chartRef.current?.destroy();
      chartRef.current = null;
    };
  }, []);

  return (
    <div style={{ position: "fixed", left: 0, top: 0, width: 975, height: 612, background: "#fff" }}>
      <canvas ref={canvasRef} />
    </div>
  );
}
